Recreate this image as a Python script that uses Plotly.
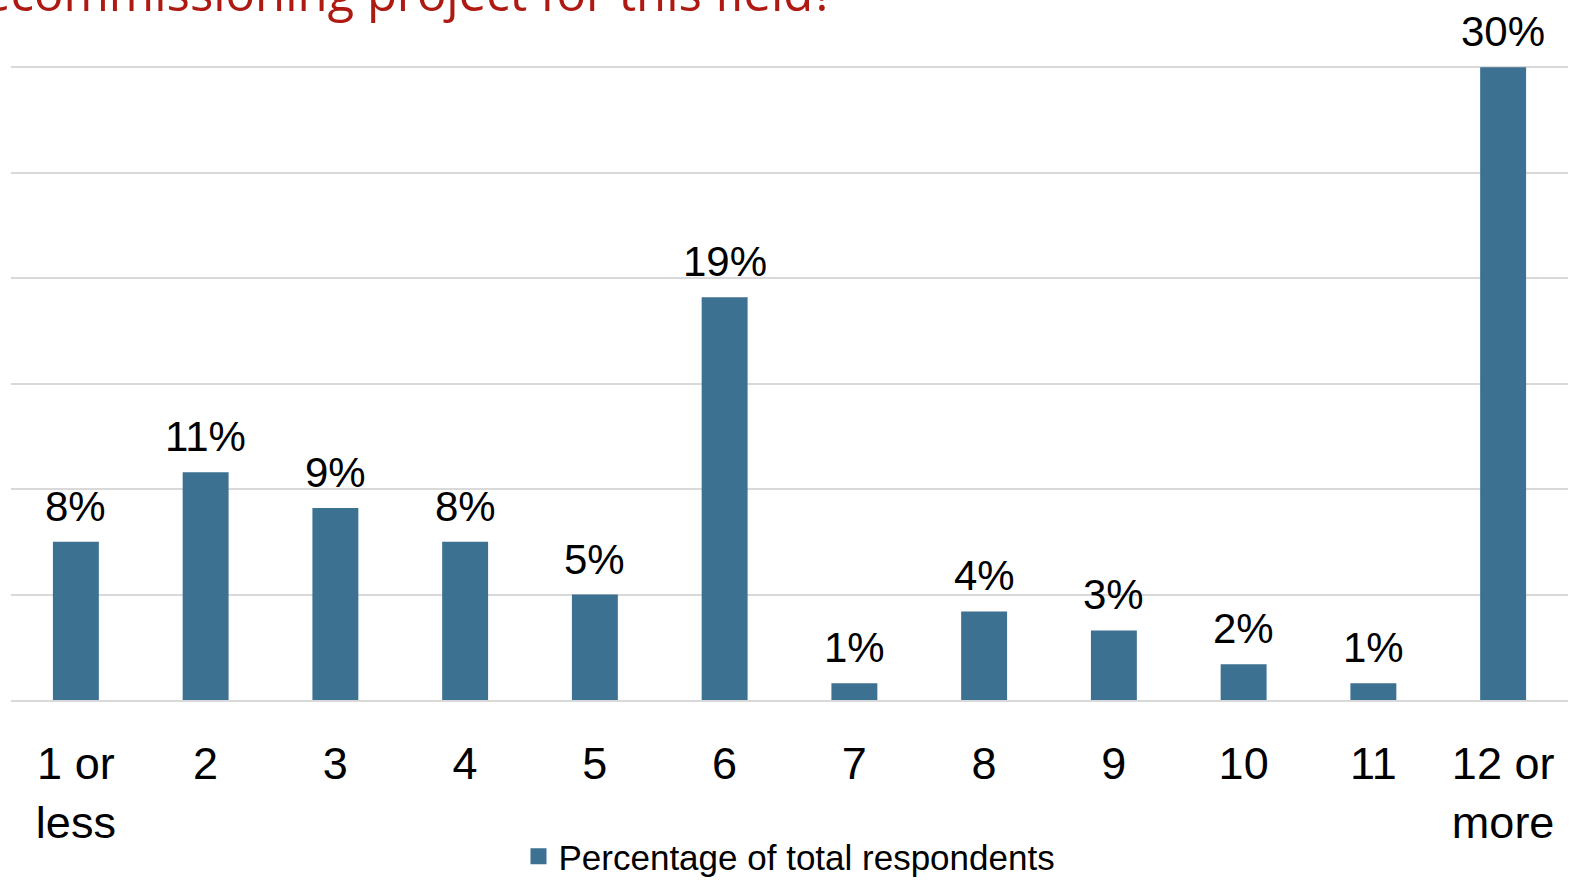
import plotly.graph_objects as go

# Survey answers: number of years expected, share of respondents (%)
categories = ["1 or<br>less", "2", "3", "4", "5", "6", "7", "8", "9", "10", "11", "12 or<br>more"]
share_pct = [7.5, 10.8, 9.1, 7.5, 5.0, 19.1, 0.8, 4.2, 3.3, 1.7, 0.8, 30.0]
series_name = "Percentage of total respondents"
title_text = "decommissioning project for this field?"

BAR_COLOR = "#3C7191"
GRID_COLOR = "#D9D9D9"
SANS = "Liberation Sans Narrow, Arial Narrow, Liberation Sans, Arial, sans-serif"

fig = go.Figure()

fig.add_trace(
    go.Bar(
        x=categories,
        y=share_pct,
        name=series_name,
        marker=dict(color=BAR_COLOR, line=dict(width=0)),
        cliponaxis=False,
        showlegend=False,
    )
)

# value labels above each bar (category index on the x axis), rounded to whole percent
for idx, val in enumerate(share_pct):
    fig.add_annotation(
        x=idx, y=val,
        xref="x", yref="y",
        text=f"{int(val + 0.5)}%",
        showarrow=False,
        yanchor="bottom",
        yshift=10,
        font=dict(family=SANS, size=42, color="#000000"),
    )

# legend key drawn as a square swatch for the bar series
fig.add_trace(
    go.Scatter(
        x=[None], y=[None],
        mode="markers",
        name=series_name,
        marker=dict(symbol="square", size=22, color=BAR_COLOR),
        showlegend=True,
    )
)

PLOT_TOP = 63
PLOT_H = 886 - 63 - 186

fig.add_annotation(
    text=title_text,
    xref="paper", yref="paper",
    x=(836 - 11) / 1557, y=1 + (PLOT_TOP - 27) / PLOT_H,
    xanchor="right", yanchor="bottom",
    showarrow=False,
    font=dict(family="Open Sans, sans-serif", size=49, color="#AE1A12"),
)

fig.update_layout(
    width=1572,
    height=886,
    margin=dict(l=11, r=4, t=PLOT_TOP, b=186),
    paper_bgcolor="white",
    plot_bgcolor="white",
    bargap=0.646,
    font=dict(family=SANS, color="#000000"),
    legend=dict(
        orientation="h",
        xref="paper", yref="container",
        x=0.5, xanchor="center",
        y=-0.016, yanchor="bottom",
        font=dict(family=SANS, size=35, color="#000000"),
        itemsizing="trace",
        tracegroupgap=0,
    ),
    xaxis=dict(
        automargin=False,
        showgrid=False,
        showline=True,
        linecolor=GRID_COLOR,
        linewidth=2,
        ticks="",
        ticklabelstandoff=23,
        tickfont=dict(family=SANS, size=45, color="#000000"),
    ),
    yaxis=dict(
        automargin=False,
        range=[0, 30.2],
        tick0=0,
        dtick=5,
        showgrid=True,
        gridcolor=GRID_COLOR,
        gridwidth=2,
        zeroline=False,
        showticklabels=False,
        ticks="",
    ),
)

fig.write_html("out.html")
